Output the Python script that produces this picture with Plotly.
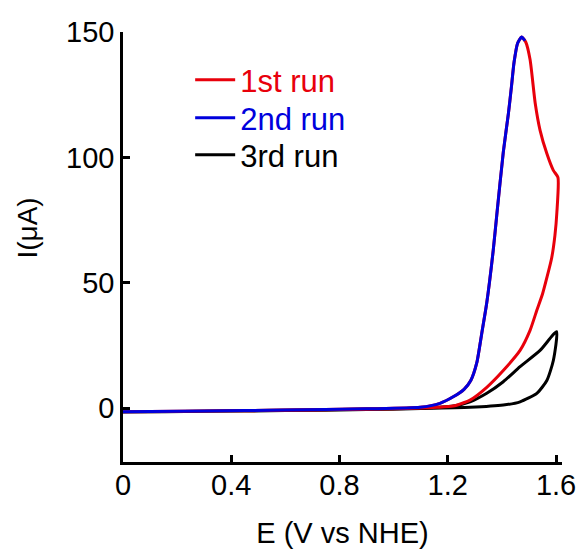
import plotly.graph_objects as go

# 1st run (red): forward then reverse scan
e_run1 = [0.0, 0.2, 0.4, 0.6, 0.8, 1.0, 1.1, 1.16, 1.22, 1.282, 1.344, 1.405, 1.467, 1.504, 1.529,
          1.55, 1.566, 1.584, 1.596, 1.603, 1.607,
          1.59, 1.566, 1.541, 1.523, 1.504, 1.488, 1.473, 1.458, 1.445, 1.435, 1.424, 1.405,
          1.381, 1.368, 1.344, 1.325, 1.307, 1.285, 1.26, 1.22, 1.171, 1.098, 0.9, 0.6, 0.3, 0.0]
i_run1 = [-1.5, -1.3, -1.1, -0.9, -0.6, -0.3, 0.0, 0.3, 0.8, 3.2, 8.3, 15, 23, 31, 39,
          45.5, 52, 60, 69, 78, 92,
          94.8, 101.5, 110.8, 121.6, 139, 146, 148, 145.5, 138, 128, 117.5, 102,
          77, 63, 42, 29.5, 18, 11, 7.5, 4.5, 1.9, 0.3, -0.3, -0.8, -1.2, -1.5]

# 2nd run (blue)
e_run2 = [0.0, 0.3, 0.6, 0.9, 1.098, 1.171, 1.22, 1.26, 1.285, 1.307, 1.325, 1.344, 1.368, 1.381,
          1.405, 1.424, 1.435, 1.445, 1.458, 1.473, 1.485]
i_run2 = [-1.5, -1.2, -0.8, -0.3, 0.3, 1.9, 4.5, 7.5, 11, 18, 29.5, 42, 63, 77,
          102, 117.5, 128, 138, 145.5, 148, 146.5]

# 3rd run (black)
e_run3 = [0.0, 0.3, 0.6, 0.9, 1.1, 1.282, 1.405, 1.467, 1.529, 1.566, 1.59, 1.602,
          1.541, 1.467, 1.405, 1.344, 1.282, 1.22, 1.1, 0.8, 0.4, 0.0]
i_run3 = [-1.6, -1.3, -1.0, -0.6, -0.2, 0.3, 1.2, 2.5, 5.9, 11, 19, 30.5,
          23, 16.5, 10.5, 5.9, 2.5, 0.8, 0.0, -0.6, -1.1, -1.6]

x_ticks = [0, 0.4, 0.8, 1.2, 1.6]
x_tick_labels = ["0", "0.4", "0.8", "1.2", "1.6"]
y_ticks = [0, 50, 100, 150]
y_tick_labels = ["0", "50", "100", "150"]

FONT = "Liberation Sans, Arial, sans-serif"

fig = go.Figure()
fig.add_trace(go.Scatter(x=e_run3, y=i_run3, mode="lines",
                         line=dict(color="#000000", width=3, shape="spline", smoothing=0.6),
                         name='<span style="color:#000000">3rd run</span>', legend="legend3"))
fig.add_trace(go.Scatter(x=e_run1, y=i_run1, mode="lines",
                         line=dict(color="#e8000b", width=3, shape="spline", smoothing=0.6),
                         name='<span style="color:#e8000b">1st run</span>', legend="legend"))
fig.add_trace(go.Scatter(x=e_run2, y=i_run2, mode="lines",
                         line=dict(color="#0000dd", width=3, shape="spline", smoothing=0.6),
                         name='<span style="color:#0000dd">2nd run</span>', legend="legend2"))

leg_common = dict(x=0.153, xanchor="left", yanchor="middle", bgcolor="rgba(0,0,0,0)",
                  font=dict(size=31, family=FONT), itemwidth=40)

fig.update_layout(
    width=579, height=553,
    margin=dict(l=123, r=17, t=32, b=91),
    paper_bgcolor="white", plot_bgcolor="white",
    font=dict(family=FONT, size=29, color="#000000"),
    showlegend=True,
    legend=dict(y=0.888, **leg_common),
    legend2=dict(y=0.800, **leg_common),
    legend3=dict(y=0.714, **leg_common),
    xaxis=dict(range=[0, 1.622], tickvals=x_ticks, ticktext=x_tick_labels, automargin=False,
               showgrid=False, zeroline=False, showline=True, linecolor="black", linewidth=2.5,
               ticks="inside", ticklen=7, tickwidth=2.5, tickcolor="black",
               ticklabelstandoff=-5,
               tickfont=dict(size=29, family=FONT),
               title=dict(text="E (V vs NHE)", font=dict(size=29, family=FONT), standoff=24)),
    yaxis=dict(range=[-21.5, 150], tickvals=y_ticks, ticktext=y_tick_labels, automargin=False,
               showgrid=False, zeroline=False, showline=True, linecolor="black", linewidth=2.5,
               ticks="inside", ticklen=7, tickwidth=2.5, tickcolor="black",
               tickfont=dict(size=29, family=FONT)),
    annotations=[dict(text="I(μA)", xref="paper", yref="paper", x=-0.2175, y=0.544,
                      xanchor="center", yanchor="middle", textangle=-90, showarrow=False,
                      font=dict(size=28, family=FONT))],
)

fig.write_html("out.html")
